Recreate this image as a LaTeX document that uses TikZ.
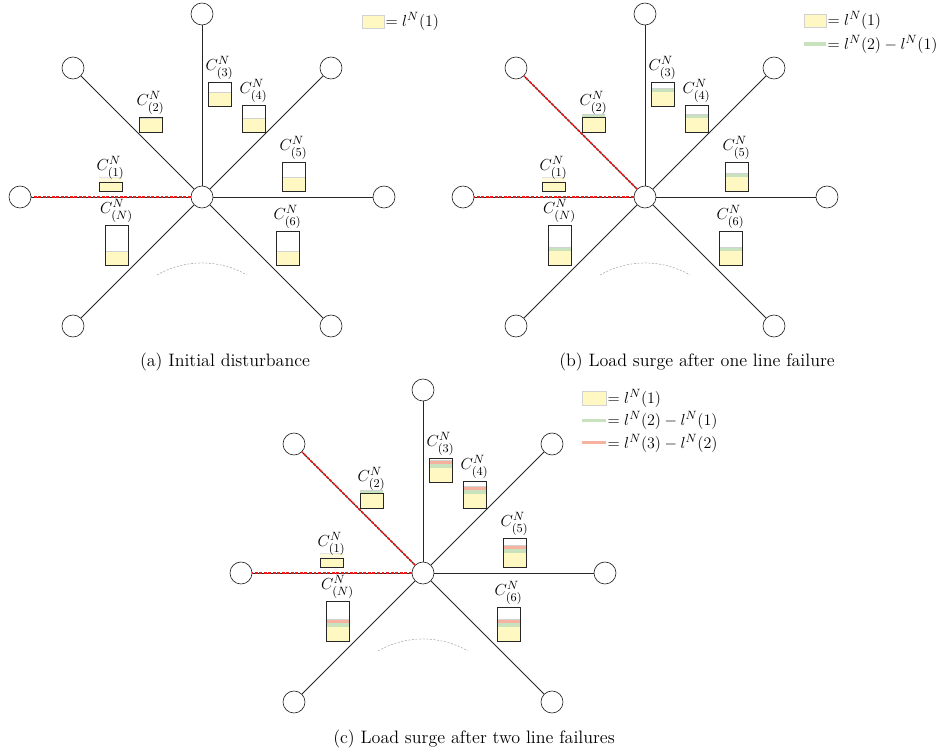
\documentclass[tikz,border=0pt]{standalone}
\usetikzlibrary{calc}
\definecolor{ly}{RGB}{255,248,195}
\definecolor{lg}{RGB}{200,226,190}
\definecolor{lr}{RGB}{246,178,158}
\definecolor{fr}{RGB}{235,25,25}
\tikzset{
  every node/.style={font=\fontsize{12.5}{14}\selectfont},
  vtx/.style={circle, draw=black!85, line width=0.5pt, fill=white, minimum size=16.5pt, inner sep=0pt},
  spoke/.style={draw=black!85, line width=0.55pt},
  failspoke/.style={draw=fr, line width=1.1pt, dash pattern=on 2.2pt off 1.2pt},
  boxline/.style={draw=black!85, line width=0.6pt},
  filledge/.style={draw=gray!35, line width=0.5pt},
  arcline/.style={draw=gray!70, line width=0.4pt, dash pattern=on 1.5pt off 1.2pt},
  lbl/.style={anchor=south, inner sep=2pt},
  legtxt/.style={anchor=west, inner sep=1pt},
  captxt/.style={font=\fontsize{13.5}{15}\selectfont, inner sep=0pt},
}
% #1 prefix, #2 left x, #3 bottom y, #4 capacity, #5 levels, #6 subscript
\newcommand\loadbox[6]{%
  \pgfmathsetmacro\ltot{14+4*(#5-1)}%
  \fill[ly] (#2,#3) rectangle ++(23,-14);
  \ifnum#5>1 \fill[lg] (#2,#3-14) rectangle ++(23,-4);\fi
  \ifnum#5>2 \fill[lr] (#2,#3-18) rectangle ++(23,-4);\fi
  \draw[filledge] (#2,#3-\ltot) -- ++(23,0);
  \pgfmathsetmacro\ov{\ltot-#4}%
  \ifnum#5=1 \ifdim\ov pt>0pt \fill[white, opacity=0.4] (#2,#3-#4) rectangle ++(23,-\ov);\fi\fi
  \draw[boxline] (#2,#3) rectangle ++(23,-#4);
  \node[lbl] (#1lab#6) at (#2+11.5,#3-#4) {$C^N_{(#6)}$};
}
% #1 prefix
\newcommand\drawstar[1]{%
  \node[vtx] (#1c) at (202,197) {};
  \node[vtx] (#1r)  at (384,197) {};
  \node[vtx] (#1ur) at (331,68) {};
  \node[vtx] (#1u)  at (202,14) {};
  \node[vtx] (#1ul) at (73,68) {};
  \node[vtx] (#1l)  at (20,197) {};
  \node[vtx] (#1dl) at (73,326) {};
  \node[vtx] (#1dr) at (331,326) {};
  \foreach \n in {r,ur,u,ul,l,dl,dr} \draw[spoke] (#1c) -- (#1\n);
  \draw[arcline] ($(#1c)+(-45,78)$) arc[start angle=-120, end angle=-60, radius=90];
}
\begin{document}
\begin{tikzpicture}[x=0.75pt, y=-0.75pt]
\useasboundingbox (0,0) rectangle (940,753);
% ---------- panel (a)
\begin{scope}
  \drawstar{a}
  \draw[failspoke] (ac) -- (al);
  \loadbox{a}{99}{191}{9}{1}{1}
  \loadbox{a}{139}{132}{15}{1}{2}
  \loadbox{a}{208}{106}{24}{1}{3}
  \loadbox{a}{242}{132}{27}{1}{4}
  \loadbox{a}{282}{191}{29}{1}{5}
  \loadbox{a}{105}{265}{40}{1}{N}
  \loadbox{a}{276}{265}{34}{1}{6}
  \fill[ly] (362,15) rectangle (384,28);
  \draw[filledge] (362,15) rectangle (384,28);
  \node[legtxt] (alegA) at (384,21.5) {$=l^N(1)$};
  \node[captxt] (acap) at (225,362) {(a) Initial disturbance};
\end{scope}
% ---------- panel (b)
\begin{scope}[shift={(443,0)}]
  \drawstar{b}
  \draw[failspoke] (bc) -- (bl);
  \draw[failspoke] (bc) -- (bul);
  \loadbox{b}{99}{191}{9}{1}{1}
  \loadbox{b}{139}{132}{15}{2}{2}
  \loadbox{b}{208}{106}{24}{2}{3}
  \loadbox{b}{242}{132}{27}{2}{4}
  \loadbox{b}{282}{191}{29}{2}{5}
  \loadbox{b}{105}{265}{40}{2}{N}
  \loadbox{b}{276}{265}{34}{2}{6}
  \fill[ly] (361,14) rectangle (383,27);
  \draw[filledge] (361,14) rectangle (383,27);
  \node[legtxt] (blegA) at (383,20.5) {$=l^N(1)$};
  \fill[lg] (361,42) rectangle (383,46);
  \node[legtxt] (blegB) at (383,44.5) {$=l^N(2)-l^N(1)$};
  \node[captxt] (bcap) at (254,362) {(b) Load surge after one line failure};
\end{scope}
% ---------- panel (c)
\begin{scope}[shift={(221,376)}]
  \drawstar{c}
  \draw[failspoke] (cc) -- (cl);
  \draw[failspoke] (cc) -- (cul);
  \loadbox{c}{99}{191}{9}{1}{1}
  \loadbox{c}{139}{132}{15}{2}{2}
  \loadbox{c}{208}{106}{24}{3}{3}
  \loadbox{c}{242}{132}{27}{3}{4}
  \loadbox{c}{282}{191}{29}{3}{5}
  \loadbox{c}{105}{265}{40}{3}{N}
  \loadbox{c}{276}{265}{34}{3}{6}
  \fill[ly] (361,15) rectangle (385,29);
  \draw[filledge] (361,15) rectangle (385,29);
  \node[legtxt] (clegA) at (385,22) {$=l^N(1)$};
  \fill[lg] (361,43) rectangle (385,46);
  \node[legtxt] (clegB) at (385,44.5) {$=l^N(2)-l^N(1)$};
  \fill[lr] (361,65) rectangle (385,68);
  \node[legtxt] (clegC) at (385,67) {$=l^N(3)-l^N(2)$};
  \node[captxt] (ccap) at (253,363) {(c) Load surge after two line failures};
\end{scope}
\end{tikzpicture}
\end{document}
